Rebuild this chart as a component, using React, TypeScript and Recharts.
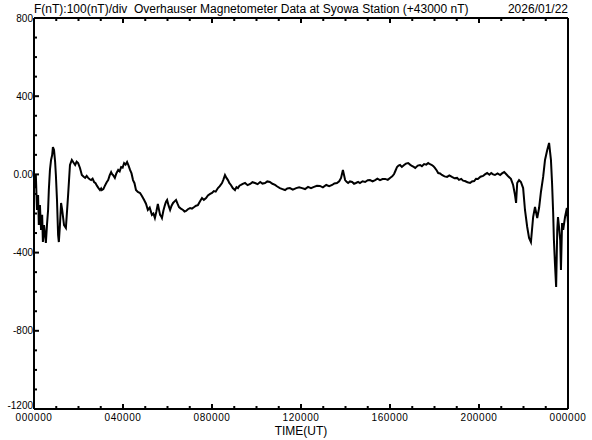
import { LineChart, Line, XAxis, YAxis } from 'recharts';

// time of day in minutes (UT) and F minus 43000 nT
const minutes = [
  0, 3, 5, 8, 11, 13, 16, 19, 22, 24,
  27, 32, 35, 38, 40, 43, 46, 49, 51, 54,
  57, 59, 62, 65, 67, 70, 73, 76, 81, 86,
  92, 97, 102, 106, 111, 115, 119, 124, 129, 134,
  138, 142, 146, 150, 154, 158, 162, 166, 170, 174,
  178, 181, 183, 187, 191, 196, 200, 204, 208, 211,
  213, 216, 218, 222, 227, 231, 235, 239, 243, 247,
  251, 255, 259, 263, 267, 271, 275, 280, 286, 291,
  297, 302, 307, 312, 318, 322, 326, 330, 334, 337,
  340, 343, 345, 349, 353, 356, 359, 363, 367, 371,
  375, 379, 383, 387, 391, 396, 402, 406, 410, 415,
  421, 426, 432, 437, 442, 447, 453, 458, 464, 469,
  475, 480, 485, 490, 496, 501, 507, 511, 515, 519,
  523, 527, 531, 536, 542, 546, 550, 554, 558, 563,
  569, 576, 583, 589, 596, 603, 610, 616, 623, 629,
  636, 643, 650, 656, 663, 670, 677, 683, 690, 698,
  707, 715, 723, 731, 739, 747, 755, 763, 771, 779,
  788, 796, 804, 810, 817, 823, 828, 833, 839, 843,
  847, 852, 858, 863, 868, 874, 879, 886, 893, 900,
  906, 913, 920, 926, 933, 940, 947, 954, 960, 966,
  971, 975, 979, 983, 987, 992, 998, 1003, 1009, 1014,
  1019, 1024, 1028, 1035, 1041, 1046, 1052, 1058, 1063, 1068,
  1073, 1077, 1081, 1086, 1090, 1095, 1100, 1107, 1114, 1120,
  1127, 1134, 1141, 1146, 1152, 1157, 1162, 1169, 1176, 1181,
  1187, 1192, 1197, 1204, 1211, 1216, 1222, 1228, 1233, 1238,
  1243, 1250, 1257, 1262, 1268, 1273, 1278, 1286, 1292, 1297,
  1300, 1303, 1308, 1313, 1319, 1324, 1330, 1335, 1340, 1346,
  1351, 1357, 1362, 1367, 1373, 1378, 1384, 1389, 1394, 1397,
  1400, 1402, 1405, 1408, 1411, 1413, 1416, 1419, 1421, 1424,
  1427, 1432, 1437, 1440,
];

const fValues = [
  -3, -70, -3, -182, -105, -259, -157, -284, -207, -346,
  -259, -351, -259, -182, -80, 23, 74, 99, 140, 125,
  63, -3, -131, -310, -346, -259, -146, -182, -259, -274,
  -105, 48, 74, 62, 48, 65, 58, 33, -3, -12,
  -18, -8, -18, -25, -29, -22, -39, -45, -59, -70,
  -80, -72, -80, -75, -59, -40, -29, -5, 12, 0,
  -3, -12, -18, 5, 23, 15, 38, 35, 58, 50,
  63, 45, 23, 5, -29, -45, -80, -90, -95, -110,
  -131, -150, -182, -170, -207, -200, -223, -190, -151, -180,
  -207, -215, -223, -185, -157, -140, -131, -160, -182, -160,
  -146, -138, -131, -150, -167, -175, -182, -190, -187, -178,
  -172, -175, -167, -160, -157, -140, -121, -130, -121, -108,
  -100, -95, -85, -88, -70, -60, -44, -25, -3, -18,
  -29, -45, -54, -70, -80, -65, -70, -58, -54, -48,
  -44, -55, -49, -40, -44, -50, -39, -47, -44, -36,
  -39, -48, -54, -62, -70, -75, -80, -72, -70, -78,
  -70, -66, -70, -75, -64, -70, -64, -58, -59, -66,
  -54, -60, -54, -46, -44, -35, -18, 23, -29, -38,
  -44, -36, -39, -48, -44, -38, -44, -35, -39, -30,
  -29, -36, -29, -22, -29, -24, -23, -28, -18, -10,
  2, 20, 38, 45, 48, 38, 48, 55, 58, 50,
  43, 38, 33, 45, 48, 42, 53, 50, 58, 52,
  48, 42, 33, 20, 7, 5, -3, -10, -13, -5,
  -13, -20, -18, -28, -23, -32, -34, -40, -44, -36,
  -34, -22, -23, -12, -8, 0, 7, -2, 7, 0,
  -3, 5, -3, 5, 12, 2, -8, -23, -54, -105,
  -146, -44, -29, -39, -70, -182, -269, -325, -346, -218,
  -167, -223, -172, -90, -13, 74, 125, 161, 74, -44,
  -197, -336, -463, -576, -284, -218, -274, -336, -489, -249,
  -284, -218, -172, -249,
];

const hourTicks = [
  0, 60, 120, 180, 240, 300, 360, 420, 480, 540, 600, 660, 720,
  780, 840, 900, 960, 1020, 1080, 1140, 1200, 1260, 1320, 1380, 1440,
];
const xMajor = [0, 240, 480, 720, 960, 1200, 1440];
const xTickLabels = ['000000', '040000', '080000', '120000', '160000', '200000', '000000'];

const fTicks = [
  -1200, -1100, -1000, -900, -800, -700, -600, -500, -400, -300, -200,
  -100, 0, 100, 200, 300, 400, 500, 600, 700, 800,
];
const yMajor = [800, 400, 0, -400, -800, -1200];
const yTickLabels = ['800', '400', '0.00', '-400', '-800', '-1200'];

const data = minutes.map((t, i) => ({ t, f: fValues[i] }));

const FONT = '"Liberation Sans", Arial, sans-serif';

const BottomTick = ({ x, y, payload }: any) => {
  const idx = xMajor.indexOf(payload.value);
  const major = idx >= 0;
  return (
    <g>
      <line x1={x} y1={y} x2={x} y2={y - (major ? 5 : 3)} stroke="#000" strokeWidth={2} />
      {major && (
        <text
          x={x}
          y={y + 12}
          textAnchor="middle"
          fontSize={10}
          letterSpacing={0.6}
          fontFamily={FONT}
          fill="#000"
        >
          {xTickLabels[idx]}
        </text>
      )}
    </g>
  );
};

const TopTick = ({ x, y, payload }: any) => {
  const major = xMajor.includes(payload.value);
  return <line x1={x} y1={y} x2={x} y2={y + (major ? 5 : 3)} stroke="#000" strokeWidth={2} />;
};

const LeftTick = ({ x, y, payload }: any) => {
  const idx = yMajor.indexOf(payload.value);
  const major = idx >= 0;
  return (
    <g>
      <line x1={x} y1={y} x2={x + (major ? 5 : 3)} y2={y} stroke="#000" strokeWidth={2} />
      {major && (
        <text
          x={x - 1}
          y={Math.min(y + 3.5, 409)}
          textAnchor="end"
          fontSize={10}
          fontFamily={FONT}
          fill="#000"
        >
          {yTickLabels[idx]}
        </text>
      )}
    </g>
  );
};

const RightTick = ({ x, y, payload }: any) => {
  const major = yMajor.includes(payload.value);
  return <line x1={x} y1={y} x2={x - (major ? 5 : 3)} y2={y} stroke="#000" strokeWidth={2} />;
};

export default function App() {
  const axisLine = { stroke: '#000', strokeWidth: 2 };
  return (
    <div style={{ position: 'absolute', left: 0, top: 0, width: 592, height: 440, background: '#fff' }}>
      <LineChart width={592} height={440} data={data} margin={{ top: 0, right: 0, bottom: 0, left: 0 }}>
        <XAxis
          xAxisId="b"
          dataKey="t"
          type="number"
          domain={[0, 1440]}
          ticks={hourTicks}
          interval={0}
          height={31}
          axisLine={axisLine}
          tickLine={false}
          tickSize={0}
          tickMargin={0}
          tick={<BottomTick />}
        />
        <XAxis
          xAxisId="t"
          orientation="top"
          dataKey="t"
          type="number"
          domain={[0, 1440]}
          ticks={hourTicks}
          interval={0}
          height={18}
          axisLine={axisLine}
          tickLine={false}
          tickSize={0}
          tickMargin={0}
          tick={<TopTick />}
        />
        <YAxis
          yAxisId="l"
          type="number"
          domain={[-1200, 800]}
          ticks={fTicks}
          interval={0}
          width={34}
          axisLine={axisLine}
          tickLine={false}
          tickSize={0}
          tickMargin={0}
          tick={<LeftTick />}
        />
        <YAxis
          yAxisId="r"
          orientation="right"
          type="number"
          domain={[-1200, 800]}
          ticks={fTicks}
          interval={0}
          width={24}
          axisLine={axisLine}
          tickLine={false}
          tickSize={0}
          tickMargin={0}
          tick={<RightTick />}
        />
        <Line
          xAxisId="b"
          yAxisId="l"
          type="linear"
          dataKey="f"
          stroke="#000"
          strokeWidth={2}
          dot={false}
          isAnimationActive={false}
        />
      </LineChart>
      <div
        style={{
          position: 'absolute',
          left: 34,
          top: 2,
          fontFamily: FONT,
          fontSize: 12,
          lineHeight: '14px',
          whiteSpace: 'pre',
          color: '#000',
        }}
      >
        {'F(nT):100(nT)/div  Overhauser Magnetometer Data at Syowa Station (+43000 nT)'}
      </div>
      <div
        style={{
          position: 'absolute',
          right: 24,
          top: 2,
          fontFamily: FONT,
          fontSize: 12,
          lineHeight: '14px',
          color: '#000',
        }}
      >
        2026/01/22
      </div>
      <div
        style={{
          position: 'absolute',
          left: 34,
          width: 534,
          top: 424,
          textAlign: 'center',
          fontFamily: FONT,
          fontSize: 12,
          lineHeight: '14px',
          color: '#000',
        }}
      >
        TIME(UT)
      </div>
    </div>
  );
}
